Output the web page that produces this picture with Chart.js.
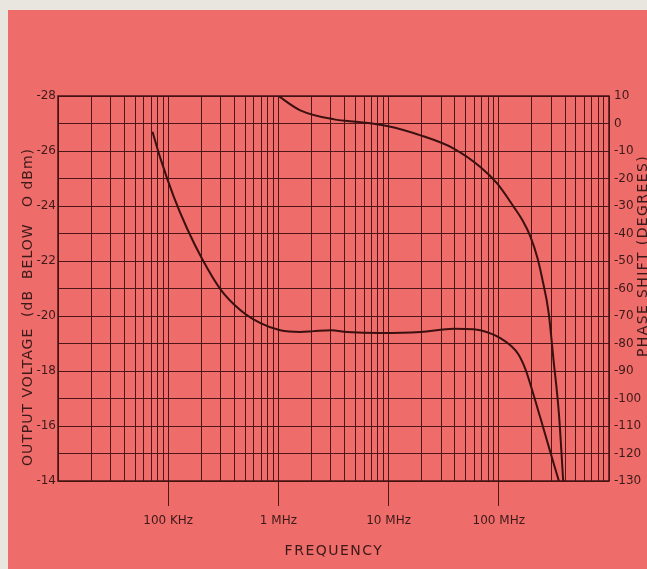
<!DOCTYPE html>
<html>
<head>
<meta charset="utf-8">
<script src="https://cdn.jsdelivr.net/npm/chart.js@4.4.1/dist/chart.umd.min.js"></script>
<style>
  html, body { margin: 0; padding: 0; background: #e9e5df; }
  canvas { display: block; }
</style>
</head>
<body>
<canvas id="chart" width="647" height="569"></canvas>
<script>
/* ------------------------------------------------------------------ */
/*  Data                                           */
/* ------------------------------------------------------------------ */

// output voltage, dB below 0 dBm (left axis)
var voltFreq = [72e3, 85e3, 112e3, 148e3, 204e3, 298e3, 453e3, 688e3, 1.04e6, 1.58e6,
                2.1e6, 3e6, 4.2e6, 8.4e6, 19.5e6, 39e6, 59e6, 84e6, 104e6, 128e6,
                151e6, 175e6, 194e6, 239e6, 294e6, 351e6];
var voltDb   = [-26.7, -25.73, -24.35, -23.19, -22.06, -20.97, -20.21, -19.74, -19.48, -19.42,
                -19.45, -19.48, -19.42, -19.38, -19.42, -19.54, -19.52, -19.37, -19.19, -18.93,
                -18.6, -18.05, -17.5, -16.28, -15.04, -14.0];

// phase shift, degrees (right axis)
var phaseFreq = [1e6, 1.58e6, 3.2e6, 5.56e6, 9.7e6, 19.5e6, 39e6, 68e6, 97e6, 137e6,
                 164e6, 194e6, 224e6, 249e6, 283e6, 314e6, 351e6, 384e6];
var phaseDeg  = [10, 4.8, 1.5, 0.5, -0.9, -4.3, -9.1, -15.8, -21.9, -30.4,
                 -35.2, -41.2, -48.8, -56.8, -68.7, -86.1, -105.4, -130];

// axes
var freqDecades     = [1e4, 1e5, 1e6, 1e7, 1e8, 1e9];
var freqTickValues  = [1e5, 1e6, 1e7, 1e8];
var freqTickLabels  = ["100 KHz", "1 MHz", "10 MHz", "100 MHz"];
var voltTickValues  = [-28, -26, -24, -22, -20, -18, -16, -14];
var phaseTickValues = [10, 0, -10, -20, -30, -40, -50, -60, -70, -80, -90, -100, -110, -120, -130];

/* ------------------------------------------------------------------ */
/*  Palette                                                            */
/* ------------------------------------------------------------------ */

var c = {
  paper: "#e9e5df",
  sheet: "#ee6c69",
  grid:  "#4e1616",
  frame: "#441313",
  line:  "#3b1010",
  text:  "#3d1a1a",
};
var FONT = "'DejaVu Sans', sans-serif";

/* ------------------------------------------------------------------ */
/*  Helpers                                                            */
/* ------------------------------------------------------------------ */

function pairs(xs, ys) {
  return xs.map(function (x, i) { return { x: x, y: ys[i] }; });
}

// 1..9 x 10^n grid lines between the decades
function logGrid() {
  var out = [];
  for (var d = 0; d < freqDecades.length - 1; d++) {
    for (var m = 1; m < 10; m++) out.push(m * freqDecades[d]);
  }
  out.push(freqDecades[freqDecades.length - 1]);
  return out;
}

function freqLabel(v) {
  for (var i = 0; i < freqTickValues.length; i++) {
    if (Math.abs(v / freqTickValues[i] - 1) < 1e-6) return freqTickLabels[i];
  }
  return "";
}

function drawText(ctx, text, x, y, rot, size, spacing) {
  ctx.save();
  ctx.translate(x, y);
  ctx.rotate(rot);
  ctx.font = size + "px " + FONT;
  ctx.letterSpacing = spacing + "px";
  ctx.fillStyle = c.text;
  ctx.textAlign = "center";
  ctx.textBaseline = "middle";
  ctx.fillText(text, 0, 0);
  ctx.restore();
}

var paperPlugin = {
  id: "paper",
  beforeDraw: function (chart) {
    var ctx = chart.ctx;
    ctx.save();
    ctx.fillStyle = c.paper;
    ctx.fillRect(0, 0, chart.width, chart.height);
    ctx.fillStyle = c.sheet;
    ctx.fillRect(8, 10, chart.width - 8, chart.height - 10);
    ctx.restore();
  },
  beforeDatasetsDraw: function (chart) {
    var a = chart.chartArea, ctx = chart.ctx;
    ctx.save();
    ctx.strokeStyle = c.frame;
    ctx.lineWidth = 1.5;
    ctx.strokeRect(a.left, a.top, a.right - a.left, a.bottom - a.top);
    ctx.restore();
  },
  afterDraw: function (chart) {
    var ctx = chart.ctx;
    drawText(ctx, "OUTPUT VOLTAGE  (dB  BELOW   O dBm)", 28, 307, -Math.PI / 2, 14, 1);
    drawText(ctx, "PHASE SHIFT (DEGREES)", 643, 256, -Math.PI / 2, 14, 1.4);
    drawText(ctx, "FREQUENCY", 334, 551, 0, 14, 1.5);
  },
};

/* ------------------------------------------------------------------ */
/*  Chart                                                              */
/* ------------------------------------------------------------------ */

new Chart(document.getElementById("chart"), {
  type: "line",
  data: {
    datasets: [
      { label: "output voltage", data: pairs(voltFreq, voltDb), yAxisID: "y",
        borderColor: c.line, borderWidth: 2, pointRadius: 0, fill: false, cubicInterpolationMode: "monotone" },
      { label: "phase shift", data: pairs(phaseFreq, phaseDeg), yAxisID: "y2",
        borderColor: c.line, borderWidth: 2, pointRadius: 0, fill: false, cubicInterpolationMode: "monotone" },
    ],
  },
  options: {
    responsive: false,
    animation: false,
    devicePixelRatio: 1,
    layout: { padding: { top: 96, left: 0, right: 0, bottom: 0 } },
    plugins: { legend: { display: false }, tooltip: { enabled: false } },
    scales: {
      x: {
        type: "logarithmic",
        min: freqDecades[0],
        max: freqDecades[freqDecades.length - 1],
        afterBuildTicks: function (s) { s.ticks = logGrid().map(function (v) { return { value: v }; }); },
        afterFit: function (s) { s.height = 88; },
        border: { display: false },
        grid: {
          color: c.grid, lineWidth: 1, tickLength: 25,
          tickColor: function (ctx) { return ctx.tick && freqLabel(ctx.tick.value) ? c.grid : "rgba(0,0,0,0)"; },
        },
        ticks: {
          autoSkip: false, maxRotation: 0, padding: 8, color: c.text,
          font: { family: FONT, size: 12 },
          callback: function (v) { return freqLabel(v); },
        },
      },
      y: {
        type: "linear", position: "left", reverse: true, min: -28, max: -14,
        afterFit: function (s) { s.width = 58; },
        border: { display: false },
        grid: { color: c.grid, lineWidth: 1, drawTicks: false },
        ticks: {
          stepSize: 1, autoSkip: false, padding: 2, color: c.text,
          font: { family: FONT, size: 12 },
          callback: function (v) { return voltTickValues.indexOf(v) >= 0 ? String(v) : ""; },
        },
      },
      y2: {
        type: "linear", position: "right", min: -130, max: 10,
        afterFit: function (s) { s.width = 38; },
        border: { display: false },
        grid: { drawOnChartArea: false, drawTicks: false },
        ticks: {
          stepSize: 10, autoSkip: false, padding: 5, color: c.text,
          font: { family: FONT, size: 12 },
          callback: function (v) { return phaseTickValues.indexOf(v) >= 0 ? String(v) : ""; },
        },
      },
    },
  },
  plugins: [paperPlugin],
});
</script>
</body>
</html>
